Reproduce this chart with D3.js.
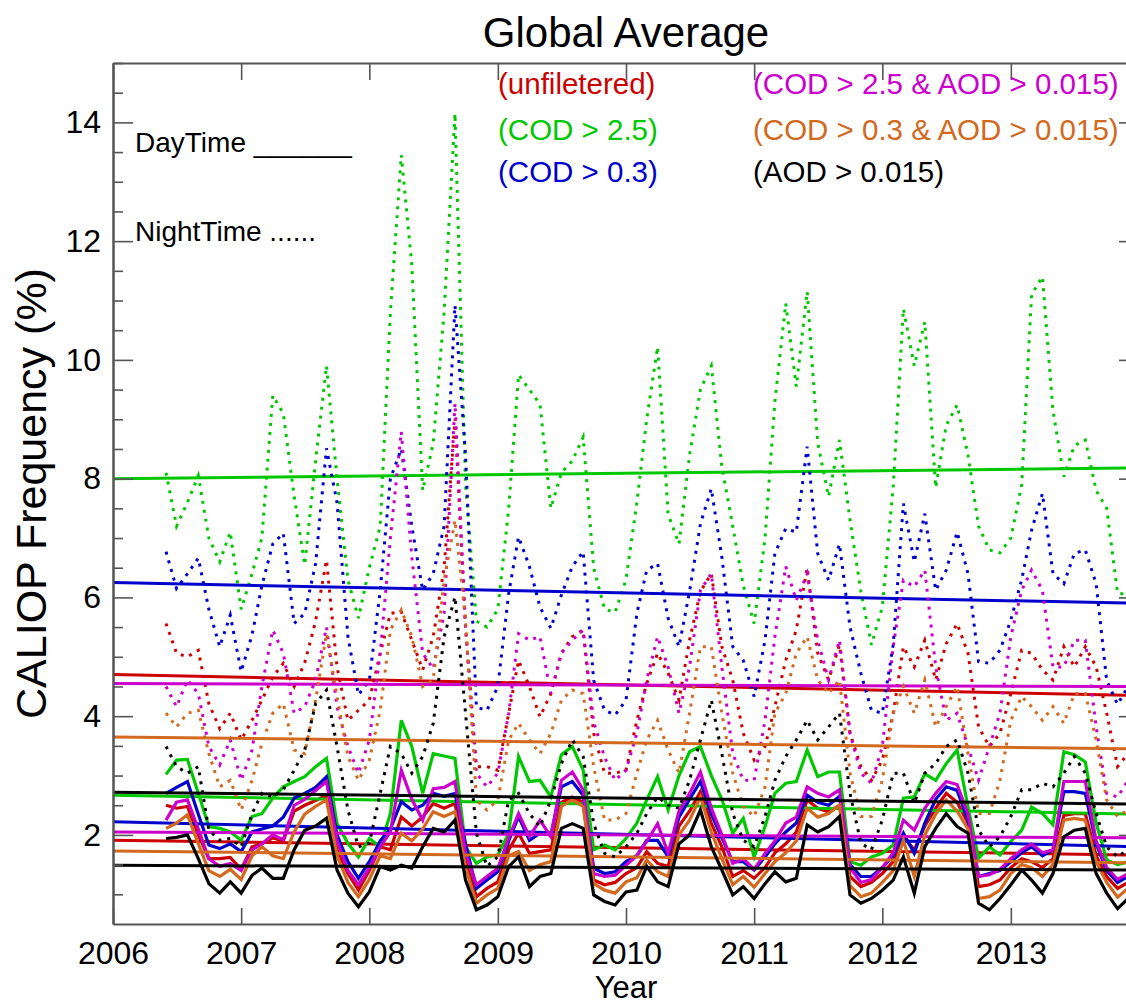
<!DOCTYPE html>
<html>
<head>
<meta charset="utf-8">
<script src="https://cdn.jsdelivr.net/npm/d3@7"></script>
<style>
body { margin: 0; background: #fff; }
text { font-family: "Liberation Sans", Arial, Helvetica, sans-serif; }
</style>
</head>
<body>
<script>
// monthly values, Jun 2006 .. Dec 2013
var firstMonth = new Date(2006, 5, 1);
var nMonths = 91;

// DayTime (solid)
var dayUnfilt = [2.50,2.45,2.48,2.00,1.60,1.60,1.62,1.42,1.80,1.85, 1.95,1.90,2.40,2.50,2.58,2.67,1.75,1.35,1.07,1.40,
  1.80,1.75,2.30,2.15,2.30,2.53,2.45,2.53,1.55,0.96, 1.10,1.21,1.75,2.03,1.69,1.72,1.75,2.55,2.64,2.55,
  1.24,1.16,1.20,1.35,1.45,1.72,1.52,1.47,2.15,2.40, 2.73,2.20,1.80,1.30,1.40,1.27,1.45,1.70,1.85,2.05,
  2.59,2.45,2.39,2.50,1.30,1.13,1.20,1.35,1.55,1.97, 1.75,2.15,2.45,2.70,2.55,2.20,1.13,1.16,1.24,1.45,
  1.60,1.55,1.45,1.60,2.33,2.36,2.36,1.65,1.30,1.10, 1.20];
var dayCod25 = [3.02,3.26,3.27,2.70,2.14,2.11,2.05,1.91,2.31,2.36, 2.62,2.81,2.90,2.98,3.15,3.29,2.19,1.86,1.63,1.94,
  1.80,2.36,3.93,3.49,2.70,3.37,3.33,3.29,1.80,1.52, 1.63,1.66,2.03,3.32,2.90,2.92,2.64,3.35,3.49,3.09,
  1.75,1.83,1.75,1.94,2.20,2.59,2.98,2.42,3.00,3.40, 3.49,3.00,2.60,2.03,2.28,1.63,2.14,2.70,2.87,2.90,
  3.43,2.98,3.06,3.06,1.55,1.49,1.63,1.69,1.83,2.62, 2.64,3.03,2.92,3.20,3.43,2.47,1.61,1.80,1.66,1.89,
  2.08,2.47,2.36,2.17,3.40,3.35,3.23,2.20,1.58,1.50, 1.55];
var dayCod03 = [2.70,2.80,2.90,2.35,1.83,1.77,1.85,1.72,2.05,2.10, 2.15,2.30,2.62,2.70,2.80,2.98,2.00,1.55,1.27,1.55,
  1.90,2.10,2.56,2.42,2.50,2.70,2.65,2.70,1.85,1.10, 1.24,1.38,1.90,2.31,1.91,2.03,2.00,2.81,2.90,2.67,
  1.44,1.35,1.38,1.55,1.65,1.91,1.91,1.63,2.30,2.60, 2.90,2.35,1.95,1.55,1.55,1.41,1.63,1.85,2.05,2.20,
  2.67,2.55,2.50,2.65,1.50,1.30,1.30,1.45,1.65,2.03, 1.69,2.20,2.60,2.81,2.75,2.25,1.30,1.35,1.40,1.55,
  1.70,1.80,1.65,1.75,2.73,2.73,2.70,1.85,1.40,1.20, 1.30];
var dayCod25Aod = [2.25,2.55,2.59,2.10,1.60,1.47,1.52,1.40,1.75,1.85, 2.00,1.92,2.50,2.60,2.75,2.90,1.90,1.40,1.16,1.45,
  1.80,2.05,3.09,2.60,2.25,2.78,2.80,2.90,1.70,1.16, 1.30,1.44,1.95,2.36,1.97,2.25,1.97,2.92,3.06,2.76,
  1.35,1.30,1.32,1.49,1.65,1.89,2.19,1.69,2.40,2.70, 3.06,2.45,2.00,1.52,1.60,1.42,1.69,1.90,2.20,2.30,
  2.81,2.70,2.64,2.76,1.45,1.20,1.25,1.45,1.70,2.25, 2.08,2.45,2.70,2.90,2.85,2.35,1.30,1.33,1.42,1.60,
  1.75,1.85,1.70,1.75,2.90,2.90,2.90,1.90,1.45,1.25, 1.35];
var dayCod03Aod = [2.11,2.20,2.34,1.85,1.40,1.30,1.42,1.25,1.65,1.80, 1.65,1.60,2.05,2.35,2.48,2.59,1.65,1.20,0.96,1.25,
  1.65,1.60,2.03,1.90,2.10,2.39,2.31,2.39,1.45,0.85, 0.99,1.10,1.65,1.72,1.40,1.50,1.55,2.48,2.59,2.48,
  1.18,1.07,1.02,1.21,1.28,1.58,1.38,1.30,2.00,2.25, 2.64,2.05,1.60,1.16,1.30,1.12,1.35,1.55,1.70,1.90,
  2.45,2.30,2.36,2.50,1.15,0.96,1.02,1.20,1.40,1.91, 1.30,2.00,2.35,2.59,2.40,2.10,0.93,0.96,1.07,1.35,
  1.50,1.45,1.30,1.50,2.25,2.28,2.25,1.55,1.20,0.95, 1.10];
var dayAod = [1.94,1.96,2.00,1.60,1.18,1.02,1.21,1.02,1.32,1.44, 1.27,1.27,1.75,2.08,2.15,2.28,1.41,1.02,0.79,1.04,
  1.47,1.41,1.49,1.44,1.80,2.11,2.05,2.25,1.24,0.74, 0.82,0.96,1.47,1.63,1.13,1.30,1.35,2.11,2.19,2.11,
  0.99,0.88,0.82,1.04,1.07,1.47,1.21,1.13,1.85,2.00, 2.42,1.80,1.41,0.99,1.13,0.93,1.18,1.38,1.21,1.27,
  2.17,2.05,2.14,2.31,0.99,0.85,0.93,1.07,1.24,1.63, 1.02,1.80,2.11,2.36,2.14,2.03,0.85,0.74,0.93,1.16,
  1.41,1.24,1.02,1.35,1.97,2.08,2.11,1.35,1.02,0.76, 0.93];

// NightTime (dotted)
var nightUnfilt = [5.56,5.06,5.00,5.11,4.21,3.79,4.05,3.60,3.93,4.27, 4.66,4.89,4.50,4.90,5.60,6.63,4.83,3.93,4.10,4.27,
  5.06,5.73,5.76,5.28,4.78,5.34,6.50,9.00,5.50,3.15, 3.15,3.09,4.05,4.94,4.50,3.99,4.38,5.06,5.34,5.45,
  3.71,3.04,3.04,3.09,3.93,4.55,5.06,4.72,4.27,5.28, 6.10,6.40,5.17,4.61,3.71,3.26,3.49,4.16,4.94,5.45,
  6.50,5.06,4.61,5.20,3.71,3.15,2.92,3.26,4.05,5.17, 4.83,5.28,4.61,5.22,5.56,5.06,3.82,3.49,3.71,4.38,
  5.11,5.06,4.78,4.61,5.17,4.83,5.17,4.83,4.05,3.15, 3.37];
var nightCod25 = [8.10,7.20,7.60,8.05,7.00,6.60,7.10,5.80,6.40,7.00, 9.40,9.10,7.70,6.55,8.30,9.90,8.00,6.30,5.65,6.50,
  7.20,10.80,13.45,11.60,7.80,8.60,10.80,14.15,7.90,5.60, 5.50,5.80,7.50,9.75,9.50,9.25,7.50,8.10,8.30,8.70,
  6.50,5.80,5.75,6.30,7.60,9.00,10.22,7.40,6.90,8.40, 9.50,9.90,8.20,7.20,6.20,5.56,7.00,9.30,10.95,9.55,
  11.15,8.60,7.70,8.65,7.30,6.10,5.20,5.84,7.86,10.86, 9.90,10.64,7.85,8.90,9.24,8.40,7.20,6.80,6.75,7.00,
  7.90,11.10,11.40,9.15,8.03,8.56,8.65,7.80,7.50,6.07, 6.05];
var nightCod03 = [6.77,6.15,6.40,6.66,5.80,5.17,5.70,4.75,5.37,6.20, 6.90,7.08,5.56,5.73,6.57,8.51,7.60,5.34,4.36,4.60,
  6.12,8.00,8.50,7.20,6.12,6.40,7.20,10.92,8.40,4.15, 4.10,4.50,6.07,7.02,6.52,5.84,5.48,6.04,6.52,6.77,
  4.60,4.10,4.02,4.27,5.73,6.46,6.57,5.65,5.17,6.10, 7.24,7.83,6.68,5.17,4.94,4.33,5.28,6.74,7.16,7.10,
  8.54,6.74,6.29,6.90,5.50,4.72,4.10,4.05,5.20,7.58, 6.60,7.41,6.12,6.46,7.10,6.40,4.92,4.89,5.11,5.62,
  6.30,7.13,7.75,6.40,6.23,6.74,6.80,6.23,4.60,4.20, 4.50];
var nightCod25Aod = [4.50,4.16,4.61,4.38,3.49,3.18,3.60,2.92,3.43,4.50, 5.45,5.06,4.05,4.16,4.61,5.50,4.16,3.49,3.04,3.60,
  5.06,7.00,8.79,6.68,5.06,4.80,5.73,9.27,5.50,3.04, 2.81,3.04,4.05,5.39,5.28,5.34,4.38,5.06,5.28,5.45,
  3.90,3.31,2.92,3.09,3.71,4.61,5.34,4.83,4.05,4.83, 6.12,6.40,4.83,3.37,2.92,2.92,3.93,5.34,6.52,5.95,
  6.40,5.28,4.61,5.28,3.71,3.04,2.87,3.49,5.17,6.29, 6.18,6.46,4.83,3.93,4.05,3.49,2.92,3.49,4.05,5.34,
  6.12,6.46,6.12,4.83,4.83,5.28,5.28,3.82,2.70,2.64, 2.92];
var nightCod03Aod = [4.05,3.82,4.05,4.10,3.37,2.81,2.92,2.42,2.92,3.54, 4.05,4.21,3.43,3.37,4.27,5.39,4.33,3.32,2.92,3.26,
  4.10,5.45,5.79,5.34,4.50,4.61,6.29,7.30,5.62,2.59, 2.42,2.59,3.60,3.88,3.60,3.37,3.71,4.27,4.44,4.38,
  3.15,2.25,2.25,2.36,3.04,3.60,3.93,3.43,3.04,4.05, 5.17,5.17,4.05,3.04,2.48,2.31,2.81,4.05,4.38,5.06,
  5.34,4.61,4.38,4.61,3.04,2.31,2.31,2.92,4.05,4.50, 4.05,4.61,3.82,4.16,4.50,3.37,2.36,2.36,2.92,3.93,
  4.33,4.16,3.93,4.16,3.88,4.38,4.38,3.60,2.59,2.31, 2.42];
var nightAod = [3.49,3.15,3.04,3.15,2.08,1.91,1.94,1.80,2.36,2.70, 2.64,2.76,3.09,3.43,4.21,4.44,3.49,2.42,1.80,1.86,
  2.70,3.49,3.37,3.04,3.32,3.88,5.34,6.01,4.05,2.03, 1.47,1.63,2.59,2.70,2.36,2.14,2.59,3.20,3.60,3.32,
  2.19,1.69,1.63,1.80,2.03,2.36,2.64,2.50,2.45,2.92, 3.60,4.27,3.37,2.36,1.91,1.80,2.31,2.92,3.32,3.60,
  3.93,3.60,3.82,4.05,2.70,1.86,1.75,2.25,3.04,3.04, 2.53,3.04,3.20,3.49,3.60,3.04,2.08,1.80,1.97,2.31,
  2.76,2.76,2.87,2.81,3.04,3.32,3.04,2.36,1.80,1.63, 1.75];

// linear trends, value at 2006.0 and 2014.0
var trendYears = [2006, 2014];
var trendNightStart = [4.70, 8.00, 6.25, 4.55, 3.65, 2.72];
var trendNightEnd   = [4.35, 8.18, 5.90, 4.50, 3.45, 2.52];
var trendDayStart   = [1.91, 2.67, 2.22, 2.05, 1.73, 1.49];
var trendDayEnd     = [1.66, 2.35, 1.80, 1.95, 1.53, 1.41];

var labels = ["(unfiletered)", "(COD > 2.5)", "(COD > 0.3)",
              "(COD > 2.5 & AOD > 0.015)", "(COD > 0.3 & AOD > 0.015)", "(AOD > 0.015)"];
var colors = ["#cc0000", "#00c800", "#0000cc", "#cc00cc", "#d2691e", "#000000"];
var yearTicks = [2006, 2007, 2008, 2009, 2010, 2011, 2012, 2013, 2014];
var yMajor = [2, 4, 6, 8, 10, 12, 14];

var daySeries = [dayUnfilt, dayCod25, dayCod03, dayCod25Aod, dayCod03Aod, dayAod];
var nightSeries = [nightUnfilt, nightCod25, nightCod03, nightCod25Aod, nightCod03Aod, nightAod];

var svgW = 1126, svgH = 1005;
var plotL = 113, plotR = 1139, plotT = 63, plotB = 924;

var svg = d3.select("body").append("svg")
    .attr("width", svgW)
    .attr("height", svgH);

var months = d3.timeMonth.range(firstMonth, d3.timeMonth.offset(firstMonth, nMonths));

var x = d3.scaleTime()
    .domain([new Date(2006, 0, 1), new Date(2014, 0, 1)])
    .range([plotL, plotR]);
var y = d3.scaleLinear()
    .domain([0.5, 15])
    .range([plotB, plotT]);

var line = d3.line()
    .x(function(d) { return x(d[0]); })
    .y(function(d) { return y(d[1]); });

var plot = svg.append("g");

for (var k = 0; k < 6; k++) {
  var nightPts = months.map(function(m, i) { return [m, nightSeries[k][i]]; });
  var dayPts = months.map(function(m, i) { return [m, daySeries[k][i]]; });

  plot.append("path")
      .attr("d", line(nightPts))
      .style("fill", "none")
      .style("stroke", colors[k])
      .style("stroke-width", 3)
      .style("stroke-dasharray", "3,6");

  plot.append("path")
      .attr("d", line(dayPts))
      .style("fill", "none")
      .style("stroke", colors[k])
      .style("stroke-width", 3.2)
      .style("stroke-linejoin", "miter");

  [[trendNightStart, trendNightEnd], [trendDayStart, trendDayEnd]].forEach(function(t) {
    var pts = [[new Date(trendYears[0], 0, 1), t[0][k]], [new Date(trendYears[1], 0, 1), t[1][k]]];
    plot.append("path")
        .attr("d", line(pts))
        .style("fill", "none")
        .style("stroke", colors[k])
        .style("stroke-width", 3);
  });
}

// axes
var axisColor = "#555";
function styleAxis(g) {
  g.select(".domain").style("stroke", axisColor).style("stroke-width", 2);
  g.selectAll(".tick line").style("stroke", axisColor).style("stroke-width", 1.6);
  g.selectAll("text").style("font-family", "Liberation Sans, Arial, sans-serif")
      .style("font-size", "32px").style("fill", "#000");
}

var yearDates = yearTicks.map(function(yr) { return new Date(yr, 0, 1); });

svg.append("g")
    .attr("transform", "translate(0," + plotB + ")")
    .call(d3.axisBottom(x).tickValues(yearDates).tickSize(-16).tickSizeOuter(0).tickPadding(17)
        .tickFormat(function(d) { return d.getFullYear() < 2014 ? d3.timeFormat("%Y")(d) : ""; }))
    .call(styleAxis);

svg.append("g")
    .attr("transform", "translate(0," + plotT + ")")
    .call(d3.axisTop(x).tickValues(yearDates).tickSize(-17).tickSizeOuter(0).tickFormat(""))
    .call(styleAxis);

var yMinor = d3.range(1, 15.01, 0.5).filter(function(v) { return yMajor.indexOf(v) < 0; });

svg.append("g")
    .attr("transform", "translate(" + plotL + ",0)")
    .call(d3.axisLeft(y).tickValues(yMajor).tickSize(-20).tickSizeOuter(0).tickPadding(12).tickFormat(d3.format("d")))
    .call(styleAxis);
svg.append("g")
    .attr("transform", "translate(" + plotL + ",0)")
    .call(d3.axisLeft(y).tickValues(yMinor).tickSize(-10).tickSizeOuter(0).tickFormat(""))
    .call(styleAxis);
svg.append("g")
    .attr("transform", "translate(" + plotR + ",0)")
    .call(d3.axisRight(y).tickValues(yMajor).tickSize(-20).tickSizeOuter(0).tickFormat(""))
    .call(styleAxis);
svg.append("g")
    .attr("transform", "translate(" + plotR + ",0)")
    .call(d3.axisRight(y).tickValues(yMinor).tickSize(-10).tickSizeOuter(0).tickFormat(""))
    .call(styleAxis);

// titles
svg.append("text")
    .attr("x", (plotL + plotR) / 2)
    .attr("y", 47)
    .attr("text-anchor", "middle")
    .style("font-size", "42px")
    .text("Global Average");

svg.append("text")
    .attr("transform", "translate(46," + ((plotT + plotB) / 2) + ") rotate(-90)")
    .attr("text-anchor", "middle")
    .style("font-size", "43px")
    .text("CALIOP Frequency (%)");

svg.append("text")
    .attr("x", (plotL + plotR) / 2)
    .attr("y", 998)
    .attr("text-anchor", "middle")
    .style("font-size", "31px")
    .text("Year");

// legend
var legX = [498, 498, 498, 753, 753, 753];
var legY = [94, 140, 182, 94, 140, 182];
svg.selectAll(".leg")
    .data(labels)
    .enter()
    .append("text")
    .attr("class", "leg")
    .attr("x", function(d, i) { return legX[i]; })
    .attr("y", function(d, i) { return legY[i]; })
    .style("font-size", "29.5px")
    .style("fill", function(d, i) { return colors[i]; })
    .text(function(d) { return d; });

var dayLab = svg.append("text").attr("x", 135).attr("y", 152).style("font-size", "28px");
dayLab.append("tspan").text("DayTime ");
dayLab.append("tspan").attr("textLength", 98).attr("lengthAdjust", "spacingAndGlyphs").text("______");
svg.append("text").attr("x", 135).attr("y", 241).style("font-size", "28px").text("NightTime ......");
</script>
</body>
</html>
